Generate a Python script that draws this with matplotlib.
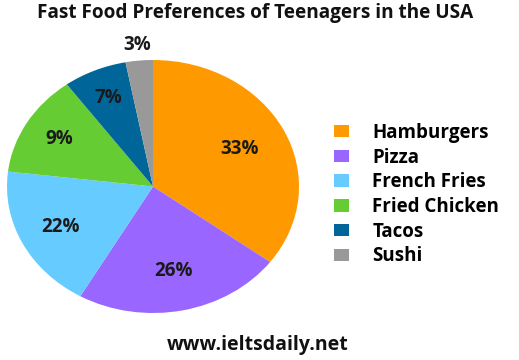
import matplotlib.pyplot as plt
import numpy as np

foods = ['Hamburgers', 'Pizza', 'French Fries', 'Fried Chicken', 'Tacos', 'Sushi']
# printed labels
pct_labels = [33, 26, 22, 9, 7, 3]
# slice sizes as drawn in the picture (they don't quite match the labels)
slice_share = [35, 23, 18.5, 13, 7, 3]
colors = ['#FF9900', '#9966FF', '#66CCFF', '#66CC33', '#006699', '#999999']
label_r = [0.66, 0.68, 0.71, 0.74, 0.76, 1.12]

plt.rcParams['font.family'] = ['Open Sans', 'DejaVu Sans']

W, H = 519, 360
fig = plt.figure(figsize=(W / 100, H / 100), dpi=100)
ax = fig.add_axes([7 / W, 47 / H, 292 / W, 253 / H])

wedges, _ = ax.pie(slice_share, colors=colors, startangle=90, counterclock=False,
                   radius=1, wedgeprops=dict(linewidth=0))
ax.set_aspect('auto')
ax.set_xlim(-1, 1)
ax.set_ylim(-1, 1)

for w, v, r in zip(wedges, pct_labels, label_r):
    t = np.deg2rad((w.theta1 + w.theta2) / 2)
    ax.text(r * np.cos(t), r * np.sin(t), f'{v}%', ha='center', va='center',
            fontsize=13.5, fontweight='bold', color='#1a1a1a', clip_on=False)

leg = fig.legend(wedges, foods, loc='upper left', bbox_to_anchor=(317 / W, 1 - 106 / H),
                 frameon=False, handlelength=0.8, handleheight=0.64, handletextpad=1.25,
                 labelspacing=0.25, prop=dict(size=13.5, weight='bold'))

fig.text(0.492, 1 - 13 / H, 'Fast Food Preferences of Teenagers in the USA',
         ha='center', va='center', fontsize=13.7, fontweight='bold', color='#111111')
fig.text(0.497, 1 - 345 / H, 'www.ieltsdaily.net', ha='center', va='center',
         fontsize=14, fontweight='bold', color='#111111')

fig.savefig('out.png', dpi=100)
